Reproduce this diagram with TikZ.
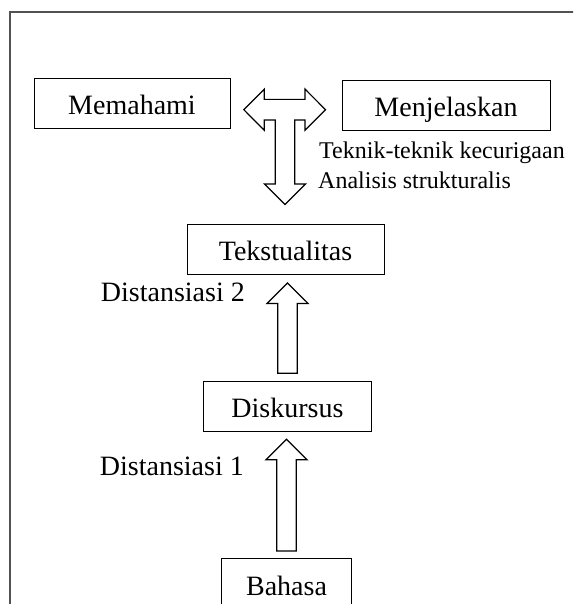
\documentclass[tikz,border=0pt]{standalone}
\usepackage{fontspec}
\setmainfont{Liberation Serif}
\usetikzlibrary{calc}
\newdimen\shaftW
\newdimen\headW
\newdimen\headL
\newdimen\arrGap
\shaftW=9.8pt
\headW=20.6pt
\headL=20.5pt
\arrGap=7.5pt

% hollow block arrow pointing up, from one box to the box above it
\newcommand{\blockup}[2]{%
  \draw [blockarrow] let \p1=($(#1.north)+(0,\arrGap)$), \p2=($(#2.south)-(0,\arrGap)$) in
    (\x1-\shaftW,\y1) -- (\x1-\shaftW,\y2-\headL) -- (\x1-\headW,\y2-\headL) -- (\x1,\y2)
    -- (\x1+\headW,\y2-\headL) -- (\x1+\shaftW,\y2-\headL) -- (\x1+\shaftW,\y1) -- cycle;}

\begin{document}
\begin{tikzpicture}[
    x=1pt, y=1pt,
    box/.style={%
      draw,
      rectangle,
      line width=1pt,
      inner sep=0pt,
      minimum height=50pt,
      text height=22pt,
      text depth=0pt,
      font=\fontsize{28}{34}\selectfont,
    },
    disttext/.style={%
      inner sep=0pt,
      font=\fontsize{28}{34}\selectfont,
    },
    sidetext/.style={%
      inner sep=0pt,
      font=\fontsize{24}{29}\selectfont,
    },
    blockarrow/.style={%
      draw,
      line width=1.2pt,
      line join=miter,
      fill=white,
    },
    frame/.style={%
      draw=black!68,
      line width=1.5pt,
    },
  ]

    \useasboundingbox (0,0) rectangle (573,604);
    \clip (0,0) rectangle (573,604);
    \draw [frame] (10,-5) -- (10,592) -- (580,592);

    \node [box, minimum width=196pt] (mem) at (132,500) {Memahami};
    \node [box, minimum width=208pt] (menj) at (446,498) {Menjelaskan};
    \node [box, minimum width=197pt] (teks) at (285.5,354) {Tekstualitas};
    \path (teks) ++(2,-156.3) node [box, minimum width=168pt] (disk) {Diskursus};
    \path (disk) ++(-1,-177.7) node [box, minimum width=130pt] (bah) {Bahasa};

    \node [sidetext, anchor=base west] (tek1) at (319,445) {Teknik-teknik kecurigaan};
    \path (tek1.base west) ++(-1,-30) node [sidetext, anchor=base west] (tek2) {Analisis strukturalis};
    \node [disttext, anchor=base east] (dist2) at (245,302.3) {Distansiasi 2};
    \node [disttext, anchor=base east] (dist1) at (244,128.3) {Distansiasi 1};

    % T-shaped arrow between the two upper boxes and down to Tekstualitas
    \coordinate (tL) at ($(mem.east)+(13.3,-5.7)$);
    \coordinate (tR) at ($(menj.west)+(-16,-3.7)$);
    \coordinate (tD) at ($(teks.north)+(-0.5,20)$);
    \draw [blockarrow] let \p1=(tL), \p2=(tR), \p3=(tD) in
      (\p1) -- (\x1+\headL,\y1+\headW) -- (\x1+\headL,\y1+\shaftW+0.5pt)
      -- (\x2-\headL,\y1+\shaftW+0.5pt) -- (\x2-\headL,\y1+\headW) -- (\p2)
      -- (\x2-\headL,\y1-\headW) -- (\x2-\headL,\y1-\shaftW-0.5pt)
      -- (\x3+\shaftW,\y1-\shaftW-0.5pt) -- (\x3+\shaftW,\y3+\headL)
      -- (\x3+\headW,\y3+\headL) -- (\p3) -- (\x3-\headW,\y3+\headL)
      -- (\x3-\shaftW,\y3+\headL) -- (\x3-\shaftW,\y1-\shaftW-0.5pt)
      -- (\x1+\headL,\y1-\shaftW-0.5pt) -- (\x1+\headL,\y1-\headW) -- cycle;

    \blockup{bah}{disk}
    \blockup{disk}{teks}
\end{tikzpicture}
\end{document}
